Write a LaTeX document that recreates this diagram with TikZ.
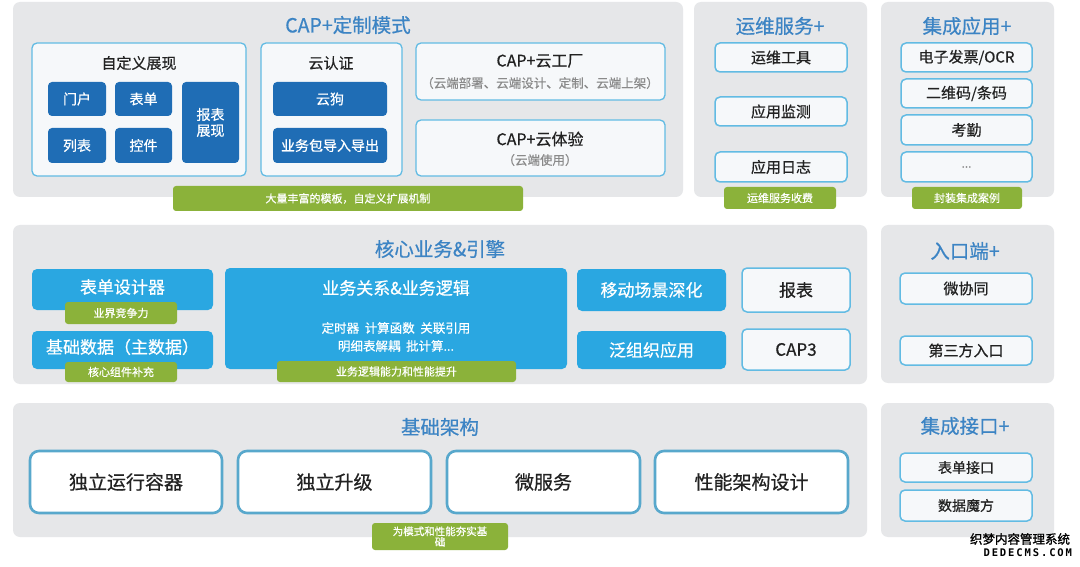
\documentclass[tikz,border=0pt]{standalone}
\usepackage{fontspec}
\setmainfont[FakeBold=0.6]{Noto Sans CJK SC}
\newfontfamily\wmfont[FakeBold=1.2]{Noto Sans CJK SC}
\newfontfamily\wmmono[LetterSpace=18]{DejaVu Sans Mono}
\definecolor{panelgray}{HTML}{E6E7E9}
\definecolor{titleblue}{HTML}{3C84C4}
\definecolor{darkblue}{HTML}{1F6DB5}
\definecolor{brightblue}{HTML}{2AA7E1}
\definecolor{lineblue}{HTML}{62BBE3}
\definecolor{boxwhite}{HTML}{F6F8FA}
\definecolor{greenbar}{HTML}{8BB23A}
\definecolor{txt}{HTML}{222222}
\definecolor{subtxt}{HTML}{8A8A8A}
\newcommand{\fs}[1]{\fontsize{#1pt}{#1pt}\selectfont}
\begin{document}
\begin{tikzpicture}[x=1pt,y=-1pt,
  every node/.style={inner sep=0pt, outer sep=0pt},
  panel/.style={fill=panelgray, rounded corners=7pt},
  ptitle/.style={text=titleblue, font=\fs{19.5}},
  subbox/.style={draw=lineblue, line width=1.3pt, fill=boxwhite, rounded corners=5pt},
  darkb/.style={fill=darkblue, rounded corners=4pt, text=white, font=\fs{14}, align=center},
  brightb/.style={fill=brightblue, rounded corners=5pt, text=white, font=\fs{17}, align=center},
  wbox/.style={draw=lineblue, line width=1.5pt, fill=boxwhite, rounded corners=5pt, text=txt, font=\fs{15}},
  bigbox/.style={draw=lineblue!90!black, line width=2.6pt, fill=white, rounded corners=9pt, text=txt, font=\fs{19}},
  gbar/.style={fill=greenbar, rounded corners=3pt, text=white, font=\fs{11}, align=center},
  plain/.style={text=txt}
]
\useasboundingbox (0,0) rectangle (1080,567);
\fill[white] (0,0) rectangle (1080,567);

% ---------- top row ----------
\node[panel, minimum width=670, minimum height=195] (p1) at (348,99.5) {};
\node[ptitle] (t1) at (348,25) {CAP+定制模式};

\node[subbox, minimum width=214, minimum height=133] (zdy) at (139,109.5) {};
\node[plain, font=\fs{15}] (zdyt) at (139,63) {自定义展现};
\node[darkb, minimum width=58, minimum height=34] (menhu) at (77,99) {门户};
\node[darkb, minimum width=57, minimum height=34] (biaodan) at (143.5,99) {表单};
\node[darkb, minimum width=58, minimum height=35] (liebiao) at (77,145.5) {列表};
\node[darkb, minimum width=57, minimum height=35] (kongjian) at (143.5,145.5) {控件};
\node[darkb, minimum width=57, minimum height=81] (bbzx) at (210.5,122.5) {报表\\[2pt]展现};

\node[subbox, minimum width=141, minimum height=133] (yrz) at (331.5,109.5) {};
\node[plain, font=\fs{15}] (yrzt) at (331,63) {云认证};
\node[darkb, minimum width=114, minimum height=34] (yungou) at (330,99) {云狗};
\node[darkb, minimum width=114, minimum height=35] (ywb) at (330,145.5) {业务包导入导出};

\node[subbox, minimum width=249, minimum height=57] (ygc) at (540.5,71.5) {};
\node[plain, font=\fs{16}] (ygct) at (540,61) {CAP+云工厂};
\node[text=subtxt, font=\fs{12.5}] (ygcs) at (540,83) {（云端部署、云端设计、定制、云端上架）};
\node[subbox, minimum width=249, minimum height=56] (yty) at (540.5,148) {};
\node[plain, font=\fs{16}] (ytyt) at (540,139) {CAP+云体验};
\node[text=subtxt, font=\fs{12.5}] (ytys) at (540,160) {（云端使用）};
\node[gbar, minimum width=350, minimum height=25] (g1) at (348,198.5) {大量丰富的模板，自定义扩展机制};

\node[panel, minimum width=173, minimum height=195] (p2) at (780.5,99.5) {};
\node[ptitle] (t2) at (780,26) {运维服务+};
\node[wbox, minimum width=132, minimum height=29] (ywgj) at (781,57.5) {运维工具};
\node[wbox, minimum width=132, minimum height=29] (yyjc) at (781,111.5) {应用监测};
\node[wbox, minimum width=132, minimum height=30] (yyrz) at (781,167) {应用日志};
\node[gbar, minimum width=112, minimum height=22] (g2) at (780,198) {运维服务收费};

\node[panel, minimum width=173, minimum height=195] (p3) at (967.5,99.5) {};
\node[ptitle] (t3) at (967,26) {集成应用+};
\node[wbox, minimum width=131, minimum height=29] (dzfp) at (966.5,57.5) {电子发票/OCR};
\node[wbox, minimum width=131, minimum height=29] (ewm) at (966.5,93.5) {二维码/条码};
\node[wbox, minimum width=131, minimum height=30] (kq) at (966.5,130) {考勤};
\node[wbox, minimum width=131, minimum height=30, text=subtxt, font=\fs{12}] (etc) at (966.5,167) {...};
\node[gbar, minimum width=110, minimum height=22] (g3) at (967,198) {封装集成案例};

% ---------- middle row ----------
\node[panel, minimum width=854, minimum height=159] (p4) at (440,304.5) {};
\node[ptitle] (t4) at (440,249) {核心业务\&引擎};

\node[brightb, minimum width=181, minimum height=41] (bdsj) at (122.5,289.5) {};
\node[text=white, font=\fs{17}] (bdsjt) at (122.5,287) {表单设计器};
\node[gbar, minimum width=112, minimum height=22] (g4) at (121,313) {业界竞争力};
\node[brightb, minimum width=181, minimum height=38] (jcsj) at (122.5,350) {};
\node[text=white, font=\fs{17}] (jcsjt) at (122.5,347) {基础数据（主数据）};
\node[gbar, minimum width=112, minimum height=20] (g5) at (121,372) {核心组件补充};

\node[brightb, minimum width=342, minimum height=101] (ywgx) at (396,318.5) {};
\node[text=white, font=\fs{17}] (ywgxt) at (396,288) {业务关系\&业务逻辑};
\node[text=white, font=\fs{12.5}] (ywl1) at (396,328) {定时器\ \ 计算函数\ \ 关联引用};
\node[text=white, font=\fs{12.5}] (ywl2) at (396,346) {明细表解耦\ \ 批计算...};
\node[gbar, minimum width=239, minimum height=21] (g6) at (396.5,371.5) {业务逻辑能力和性能提升};

\node[brightb, minimum width=149, minimum height=42] (ydcj) at (651.5,290) {移动场景深化};
\node[brightb, minimum width=149, minimum height=38] (fzz) at (651.5,350) {泛组织应用};
\node[wbox, minimum width=108, minimum height=44, font=\fs{17}] (baobiao) at (796,290) {报表};
\node[wbox, minimum width=108, minimum height=41, font=\fs{17}] (cap3) at (796,349.5) {CAP3};

\node[panel, minimum width=173, minimum height=158] (p5) at (967.5,304) {};
\node[ptitle] (t5) at (965,251) {入口端+};
\node[wbox, minimum width=132, minimum height=31] (wxt) at (966,288.5) {微协同};
\node[wbox, minimum width=132, minimum height=29] (dsf) at (966,350.5) {第三方入口};

% ---------- bottom row ----------
\node[panel, minimum width=854, minimum height=134] (p6) at (440,470) {};
\node[ptitle] (t6) at (440,427) {基础架构};
\node[bigbox, minimum width=192, minimum height=62] (dlyx) at (126,482) {独立运行容器};
\node[bigbox, minimum width=193, minimum height=62] (dlsj) at (334.5,482) {独立升级};
\node[bigbox, minimum width=193, minimum height=62] (wfw) at (543.5,482) {微服务};
\node[bigbox, minimum width=193, minimum height=62] (xnjg) at (751.5,482) {性能架构设计};
\node[gbar, minimum width=136, minimum height=27, font=\fs{10.5}] (g7) at (440,536.5) {为模式和性能夯实基\\[0pt]础};

\node[panel, minimum width=173, minimum height=134] (p7) at (967.5,470) {};
\node[ptitle] (t7) at (965,426) {集成接口+};
\node[wbox, minimum width=132, minimum height=29, font=\fs{14}] (bdjk) at (966,467.5) {表单接口};
\node[wbox, minimum width=132, minimum height=31, font=\fs{14}] (sjmf) at (966,505.5) {数据魔方};

% ---------- watermark ----------
\node[anchor=east, font=\wmfont\fs{12.5}, text=black] (wm1) at (1070,539) {织梦内容管理系统};
\node[anchor=east, font=\wmmono\bfseries\fs{10.5}, text=black] (wm2) at (1072,553) {DEDECMS.COM};
\end{tikzpicture}
\end{document}
